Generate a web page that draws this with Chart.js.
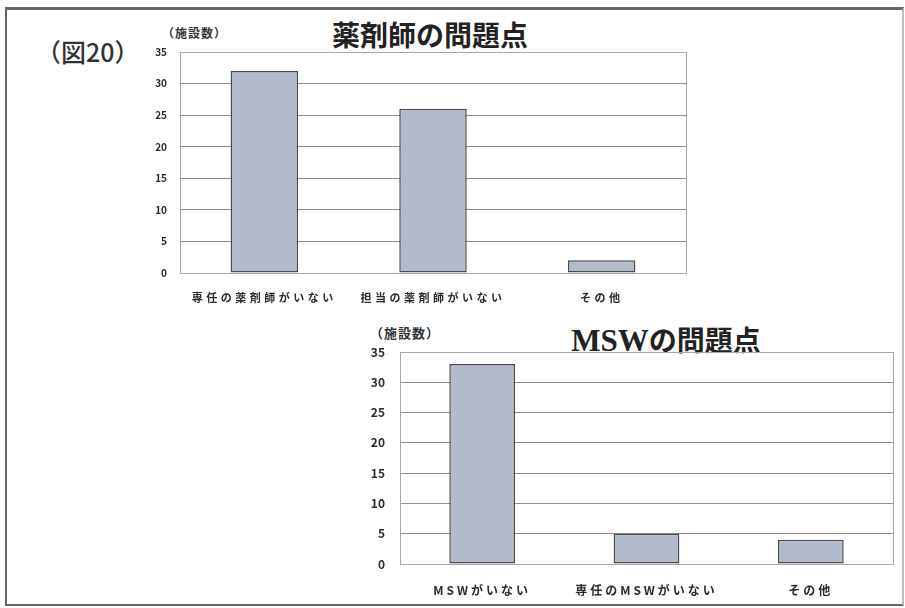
<!DOCTYPE html>
<html>
<head>
<meta charset="utf-8">
<script src="https://cdn.jsdelivr.net/npm/chart.js@4"></script>
<style>
  html, body { margin: 0; padding: 0; background: #fff; }
  body { width: 905px; height: 608px; position: relative; overflow: hidden; font-family: "Noto Sans CJK JP", sans-serif; color: #222; }
  .frame { position: absolute; left: 5px; top: 7px; width: 895px; height: 594px; border: 2px solid #666; border-top-width: 3px; border-right-color: #bbb; }
  .txt { position: absolute; white-space: nowrap; }
  .fig-no { left: 36px; top: 33px; font-size: 25px; font-weight: 500; color: #333; }
  .title { font-weight: bold; transform: translateX(-50%); line-height: 1; }
  .serif { font-family: "Liberation Serif", serif; }
  .unit { font-weight: bold; color: #333; letter-spacing: 1px; }
  canvas { position: absolute; }
</style>
</head>
<body>
<div class="frame"></div>
<div class="txt fig-no">（図20）</div>
<div class="txt title" style="left:430px; top:20px; font-size:28px;">薬剤師の問題点</div>
<div class="txt unit" style="left:162px; top:24px; font-size:12px;">（施設数）</div>
<div class="txt title" style="left:666px; top:325px; font-size:28px;"><span class="serif" style="font-size:31px;">MSW</span>の問題点</div>
<div class="txt unit" style="left:370px; top:323px; font-size:13px;">（施設数）</div>

<div style="position:absolute; left:140px; top:40px; width:560px; height:270px;"><canvas id="pharmacist"></canvas></div>
<div style="position:absolute; left:360px; top:320px; width:545px; height:280px;"><canvas id="msw"></canvas></div>

<script>
// 薬剤師の問題点
const pharmacistLabels = ['専任の薬剤師がいない', '担当の薬剤師がいない', 'その他'];
const pharmacistCounts = [32, 26, 2];

// MSWの問題点
const mswLabels = ['MSWがいない', '専任のMSWがいない', 'その他'];
const mswCounts = [33, 5, 4];

// 縦軸（施設数）
const countTicks = [0, 5, 10, 15, 20, 25, 30, 35];

const FONT = '"Noto Sans CJK JP", sans-serif';
const BAR_FILL = '#b2bbcc';
const BAR_EDGE = '#4a4a4a';

// plot frame around the chart area + spaced category labels
const framePlugin = {
  id: 'frame',
  afterDatasetsDraw(chart, args, opts) {
    const { ctx, chartArea: a } = chart;
    ctx.save();
    ctx.strokeStyle = '#a8a8a8';
    ctx.lineWidth = 1;
    ctx.strokeRect(Math.round(a.left) + 0.5, Math.round(a.top) + 0.5,
      Math.round(a.right - a.left), Math.round(a.bottom - a.top));
    ctx.restore();
    ctx.letterSpacing = opts.spacing + 'px';
  },
  afterDraw(chart) {
    chart.ctx.letterSpacing = '0px';
  }
};

function makeChart(id, labels, counts, cfg) {
  return new Chart(document.getElementById(id), {
    type: 'bar',
    data: {
      labels: labels,
      datasets: [{
        data: counts,
        backgroundColor: BAR_FILL,
        borderColor: BAR_EDGE,
        borderWidth: 1.5,
        borderSkipped: false,
        barPercentage: 0.4,
        categoryPercentage: 1
      }]
    },
    options: {
      responsive: true,
      maintainAspectRatio: false,
      animation: false,
      layout: { padding: { top: cfg.top, right: cfg.right, left: 0, bottom: 0 } },
      plugins: {
        legend: { display: false },
        tooltip: { enabled: false },
        frame: { spacing: cfg.spacing }
      },
      scales: {
        x: {
          grid: { display: false },
          border: { display: true, color: '#8a8a8a' },
          afterFit: (s) => { s.height = cfg.xHeight; },
          ticks: {
            z: 1,
            padding: cfg.xPad,
            color: '#2a2a2a',
            font: { family: FONT, size: cfg.xFont, weight: 'bold' }
          }
        },
        y: {
          min: 0,
          max: 35,
          // fixed axis width; the layout padding alone sets the plot top
          afterFit: (s) => { s.width = 40; s.paddingTop = 0; s.paddingBottom = 0; },
          afterBuildTicks: (s) => { s.ticks = countTicks.map(v => ({ value: v })); },
          grid: { color: '#8c8c8c', drawTicks: false },
          border: { display: false },
          ticks: {
            padding: cfg.yPad,
            color: '#2a2a2a',
            font: { family: FONT, size: cfg.yFont, weight: 'bold' }
          }
        }
      }
    },
    plugins: [framePlugin]
  });
}

makeChart('pharmacist', pharmacistLabels, pharmacistCounts,
  { top: 12, right: 14, xHeight: 37, xPad: 10, xFont: 11, yFont: 10, yPad: 13, spacing: 3.5 });
makeChart('msw', mswLabels, mswCounts,
  { top: 32, right: 12, xHeight: 36, xPad: 11, xFont: 12, yFont: 12, yPad: 15, spacing: 3 });
</script>
</body>
</html>
